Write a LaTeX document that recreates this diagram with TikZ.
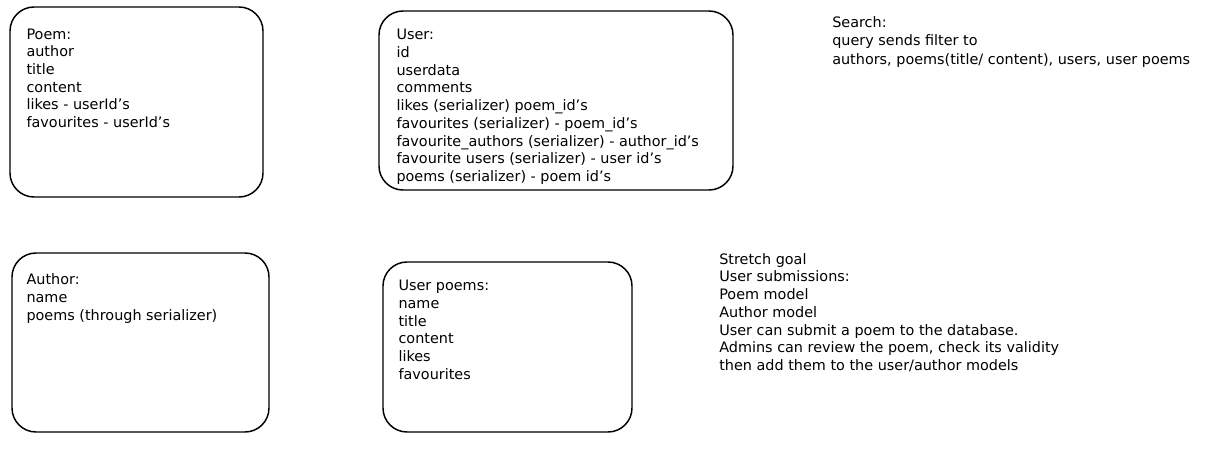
\documentclass[tikz,border=0pt]{standalone}
\usepackage{fontspec}
\setmainfont{DejaVu Sans}
\usetikzlibrary{positioning}

\tikzset{
  modelbox/.style={draw, line width=1.1pt, rounded corners=18pt, inner sep=0pt},
  fieldlist/.style={align=left, inner sep=0pt, font=\fontsize{10.8}{13.3}\selectfont},
}

\begin{document}
\begin{tikzpicture}[x=0.75pt, y=-0.75pt]
  \useasboundingbox (0,0) rectangle (1210,463);
  % model boxes
  \node[modelbox, minimum width=189.75pt, minimum height=142.5pt] (poem) at (136.5,102) {};
  \node[modelbox, minimum width=265.5pt, minimum height=134.25pt] (user) at (556,100.5) {};
  \node[modelbox, minimum width=192.75pt, minimum height=134.25pt] (author) at (140.5,342.5) {};
  \node[modelbox, minimum width=186.75pt, minimum height=127.5pt] (userpoems) at (507.5,347) {};
  % fields
  \node[fieldlist, below right=16.5pt and 12.75pt of poem.north west] (poemfields)
    {Poem:\\author\\title\\content\\likes - userId's\\favourites - userId's};
  \node[fieldlist, below right=14pt and 13.5pt of user.north west] (userfields)
    {User:\\id\\userdata\\comments\\likes (serializer) poem\_id's\\favourites (serializer) - poem\_id's\\favourite\_authors (serializer) - author\_id's\\favourite users (serializer) - user id's\\poems (serializer) - poem id's};
  \node[fieldlist, below right=16pt and 11.25pt of author.north west] (authorfields)
    {Author:\\name\\poems (through serializer)};
  \node[fieldlist, below right=14pt and 12pt of userpoems.north west] (userpoemfields)
    {User poems:\\name\\title\\content\\likes\\favourites};
  % notes
  \node[fieldlist, anchor=north west, font=\fontsize{10.8}{13.9}\selectfont] (search) at (832,16)
    {Search:\\query sends filter to\\authors, poems(title/ content), users, user poems};
  \node[fieldlist, anchor=north west] (stretch) at (719,253)
    {Stretch goal\\User submissions:\\Poem model\\Author model\\User can submit a poem to the database.\\Admins can review the poem, check its validity\\then add them to the user/author models};
\end{tikzpicture}
\end{document}
